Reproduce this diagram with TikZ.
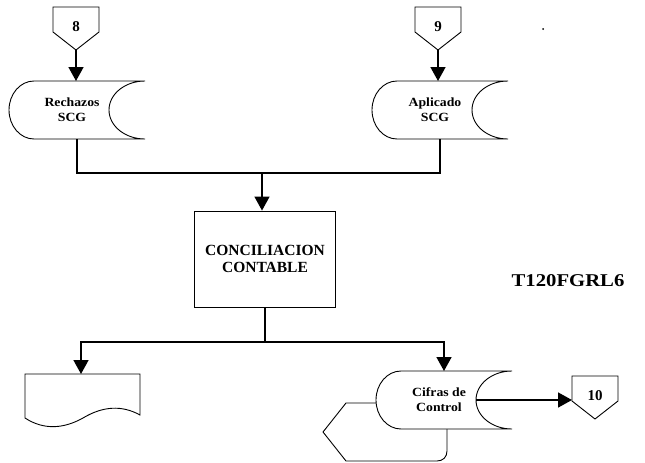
\documentclass[tikz,border=0pt]{standalone}
\usepackage{fontspec}
\setmainfont{Liberation Serif}
\usetikzlibrary{arrows.meta,calc}
\begin{document}
\begin{tikzpicture}[x=1pt,y=-1pt,
  wire/.style={line width=1.6pt},
  arr/.style={wire,-{Triangle[length=14pt,width=15pt]}},
  outl/.style={line width=0.9pt},
  lab/.style={font=\bfseries\fontsize{12.5}{15}\selectfont,align=center,inner sep=0pt,xscale=1.1},
  pics/storage/.style={code={
    \draw[outl,fill=white] (68,-29) -- (-43,-29) .. controls (-56.8,-29) and (-68,-16) .. (-68,0) .. controls (-68,16) and (-56.8,29) .. (-43,29) -- (68,29) .. controls (48.1,29) and (32,16) .. (32,0) .. controls (32,-16) and (48.1,-29) .. (68,-29);
    \coordinate (-n) at (0,-29);
    \coordinate (-s) at (0,29);
    \coordinate (-e) at (32,0);
    \node[lab] (-t) at (-5,0) {#1};
  }},
  pics/offpage/.style={code={
    \draw[outl] (-23,0) -- (23,0) -- (23,25) -- (0,43) -- (-23,25) -- cycle;
    \node[font=\bfseries\fontsize{15}{16}\selectfont] (-t) at (0,20) {#1};
    \coordinate (-s) at (0,43);
    \coordinate (-w) at (-23,22);
  }}]
\useasboundingbox (0,0) rectangle (645,463);
\pic (c8) at (76,7) {offpage=8};
\pic (c9) at (438,7) {offpage=9};
\pic (rech) at (77,110) {storage={Rechazos\\SCG}};
\pic (apl) at (440,110) {storage={Aplicado\\SCG}};
\draw[arr] (c8-s) -- (c8-s |- rech-n);
\draw[arr] (c9-s) -- (c9-s |- apl-n);
\coordinate (j1) at (262,173);
\draw[wire] (rech-s) |- (j1) -| (apl-s);
\node[draw, line width=0.9pt, minimum width=141pt, minimum height=96pt, font=\bfseries\fontsize{15.5}{17}\selectfont, align=center] (box) at (265,259) {CONCILIACION\\CONTABLE};
\draw[arr] (j1) -- (j1 |- box.north);
\coordinate (j2) at (265,342);
\draw[wire] (box.south) -- (j2);
\draw[outl] (25,374) -- (140,374) -- (140,415) .. controls (122,405) and (103,406) .. (83,418) .. controls (65,428) and (45,431) .. (25,418) -- cycle;
\coordinate (doc) at (81,374);
\draw[arr] (j2) -| (doc);
\draw[outl] (390,403) -- (346,403) -- (323,432) -- (346,461) -- (437,461) .. controls (443,461) and (447,457) .. (447,451) -- (447,420);
\pic (cif) at (444,400) {storage={Cifras de\\Control}};
\draw[arr] (j2) -| (cif-n);
\pic (c10) at (595,376) {offpage=10};
\draw[arr] (cif-e) -- (cif-e -| c10-w);
\node[font=\bfseries\fontsize{18}{20}\selectfont, xscale=1.15] (code) at (568,281) {T120FGRL6};
\fill (543,29) circle (1);
\end{tikzpicture}
\end{document}
